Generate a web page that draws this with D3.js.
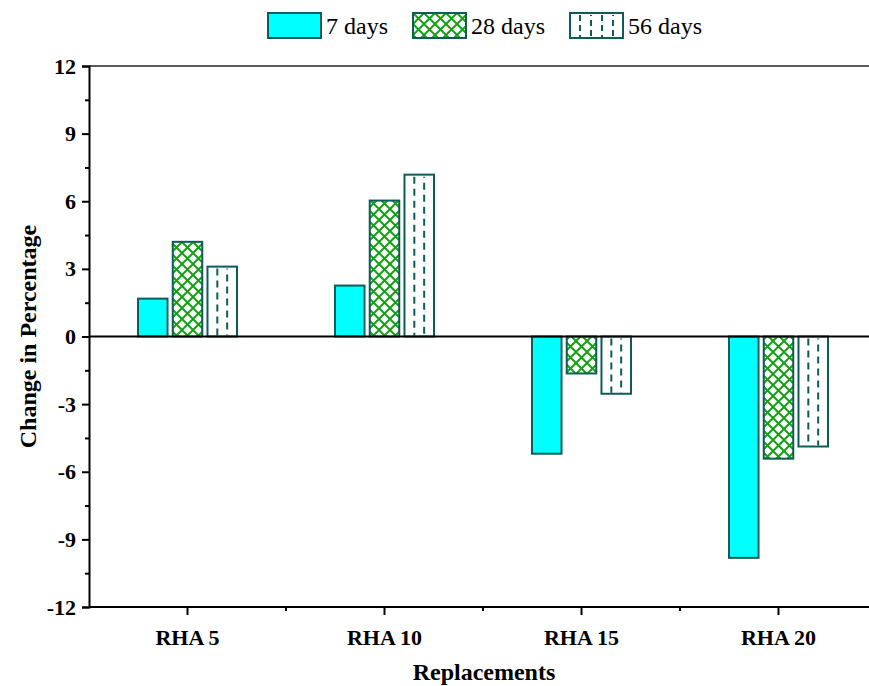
<!DOCTYPE html>
<html>
<head>
<meta charset="utf-8">
<script src="https://cdn.jsdelivr.net/npm/d3@7"></script>
<style>
  body { margin: 0; background: #fff; }
  svg { font-family: "Liberation Serif", "Times New Roman", serif; }
</style>
</head>
<body>
<svg></svg>
<script>
// chart data
const categories = ['RHA 5', 'RHA 10', 'RHA 15', 'RHA 20'];
const seriesNames = ['7 days', '28 days', '56 days'];
const days7 = [1.68, 2.26, -5.2, -9.82];
const days28 = [4.2, 6.03, -1.64, -5.42];
const days56 = [3.1, 7.18, -2.54, -4.88];
const yTicks = [-12, -9, -6, -3, 0, 3, 6, 9, 12];

const size = {w: 869, h: 686};
const margin = {t: 66, r: -8, b: 79, l: 89};
const svg = d3.select('svg').attr('width', size.w).attr('height', size.h);

const edge = '#0e5c58';
const hatch = '#16a016';
const fills = ['#00ffff', 'url(#cross)', '#ffffff'];

// patterns
const defs = svg.append('defs');
const cross = defs.append('pattern')
    .attr('id', 'cross')
    .attr('patternUnits', 'userSpaceOnUse')
    .attr('width', 11).attr('height', 11);
cross.append('rect').attr('width', 11).attr('height', 11).attr('fill', '#fff');
cross.append('path')
    .attr('d', 'M-1,12 L12,-1 M-1,-1 L12,12')
    .attr('stroke', hatch).attr('stroke-width', 2);

// scales
const x = d3.scaleBand()
    .domain(categories)
    .range([margin.l, margin.l + 197 * 4]);
const xInner = d3.scaleBand()
    .domain(seriesNames)
    .range([0, 99])
    .paddingInner(0.15);
const y = d3.scaleLinear()
    .domain([-12, 12])
    .range([size.h - margin.b, margin.t]);

const rows = categories.map((c, i) => ({cat: c, vals: [days7[i], days28[i], days56[i]]}));

// bars
const groups = svg.append('g').selectAll('g')
    .data(rows)
    .join('g')
    .attr('transform', d => `translate(${x(d.cat) + x.bandwidth() / 2 - 49.5},0)`);

const bars = groups.selectAll('g.bar')
    .data(d => d.vals.map((v, k) => ({v: v, k: k, name: seriesNames[k]})))
    .join('g').classed('bar', true);

bars.append('rect')
    .attr('x', d => xInner(d.name))
    .attr('y', d => y(Math.max(0, d.v)))
    .attr('width', xInner.bandwidth())
    .attr('height', d => Math.abs(y(d.v) - y(0)))
    .attr('fill', d => fills[d.k])
    .attr('stroke', edge)
    .attr('stroke-width', 2);

// dashed fill for 56 days
bars.filter(d => d.k === 2).each(function(d) {
    const g = d3.select(this);
    const x0 = xInner(d.name), bw = xInner.bandwidth();
    const top = y(Math.max(0, d.v)), bot = y(Math.min(0, d.v));
    [1 / 3, 2 / 3].forEach((f, j) => {
        g.append('line')
            .attr('x1', x0 + bw * f).attr('x2', x0 + bw * f)
            .attr('y1', top + 2).attr('y2', bot - 1)
            .attr('stroke', edge).attr('stroke-width', 2)
            .attr('stroke-dasharray', '7,5')
            .attr('stroke-dashoffset', j * 6);
    });
});

// zero line
svg.append('line')
    .attr('x1', margin.l).attr('x2', size.w)
    .attr('y1', y(0)).attr('y2', y(0))
    .attr('stroke', '#000').attr('stroke-width', 2);

// top frame
svg.append('line')
    .attr('x1', margin.l).attr('x2', size.w)
    .attr('y1', y(12)).attr('y2', y(12))
    .attr('stroke', '#222').attr('stroke-width', 1.5);

// y axis
const yAxis = svg.append('g')
    .attr('transform', `translate(${margin.l},0)`)
    .call(d3.axisLeft(y).tickValues(yTicks).tickSize(7).tickPadding(6)
        .tickFormat(d => String(d)));
svg.append('g')
    .attr('transform', `translate(${margin.l},0)`)
    .call(d3.axisLeft(y).tickValues(d3.range(-10.5, 12, 3)).tickSize(4).tickFormat(''))
    .call(g => g.select('.domain').remove());

// x axis
const xAxis = svg.append('g')
    .attr('transform', `translate(0,${y(-12)})`)
    .call(d3.axisBottom(x).tickSize(8).tickPadding(14));
svg.append('g')
    .attr('transform', `translate(0,${y(-12)})`)
    .call(d3.axisBottom(x).tickValues(categories.slice(1)).tickSize(4).tickFormat(''))
    .call(g => g.selectAll('.tick').attr('transform', d => `translate(${x(d)},0)`))
    .call(g => g.select('.domain').remove());
xAxis.select('.domain').attr('d', `M${margin.l},0H${size.w}`);

svg.selectAll('.domain, .tick line').attr('stroke', '#000').attr('stroke-width', 2);
yAxis.selectAll('text').attr('font-size', 22).attr('font-weight', 'bold').attr('fill', '#000')
    .attr('font-family', 'Liberation Serif');
xAxis.selectAll('text').attr('font-size', 22).attr('font-weight', 'bold').attr('fill', '#000')
    .attr('font-family', 'Liberation Serif');

// axis titles
svg.append('text')
    .attr('transform', `translate(36,${y(0)}) rotate(-90)`)
    .attr('text-anchor', 'middle')
    .attr('font-size', 24).attr('font-weight', 'bold')
    .text('Change in Percentage');
svg.append('text')
    .attr('x', (margin.l + size.w) / 2 + 5).attr('y', 680)
    .attr('text-anchor', 'middle')
    .attr('font-size', 24).attr('font-weight', 'bold')
    .text('Replacements');

// legend
const legendX = [268, 413, 570];
const legend = svg.append('g').selectAll('g')
    .data(seriesNames)
    .join('g')
    .attr('transform', (d, i) => `translate(${legendX[i]},13)`);
legend.append('rect')
    .attr('width', 53).attr('height', 25)
    .attr('fill', (d, i) => fills[i])
    .attr('stroke', edge).attr('stroke-width', 2);
legend.filter((d, i) => i === 2).each(function() {
    const g = d3.select(this);
    [10, 21, 32, 43].forEach((lx, j) => {
        g.append('line')
            .attr('x1', lx).attr('x2', lx).attr('y1', 2).attr('y2', 24)
            .attr('stroke', edge).attr('stroke-width', 2)
            .attr('stroke-dasharray', '6,4')
            .attr('stroke-dashoffset', (j % 2) * 5);
    });
});
legend.append('text')
    .attr('x', 58).attr('y', 21)
    .attr('font-size', 24)
    .text(d => d);
</script>
</body>
</html>
